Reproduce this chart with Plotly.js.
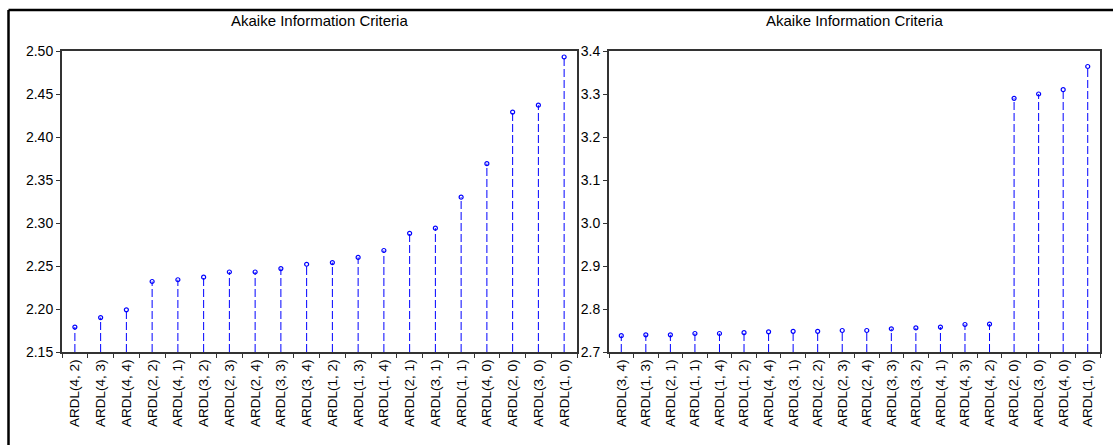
<!DOCTYPE html>
<html>
<head>
<meta charset="utf-8">
<script src="https://cdn.plot.ly/plotly-3.0.1.min.js"></script>
<style>html,body{margin:0;padding:0;background:#fff;}#chart{width:1113px;height:445px;}</style>
</head>
<body>
<div id="chart"></div>
<script>
// ---- data ----
const chartTitle = "Akaike Information Criteria";

const leftModels = ["ARDL(4, 2)","ARDL(4, 3)","ARDL(4, 4)","ARDL(2, 2)","ARDL(4, 1)","ARDL(3, 2)","ARDL(2, 3)","ARDL(2, 4)","ARDL(3, 3)","ARDL(3, 4)","ARDL(1, 2)","ARDL(1, 3)","ARDL(1, 4)","ARDL(2, 1)","ARDL(3, 1)","ARDL(1, 1)","ARDL(4, 0)","ARDL(2, 0)","ARDL(3, 0)","ARDL(1, 0)"];
const leftAIC = [2.179,2.190,2.199,2.232,2.234,2.237,2.243,2.243,2.247,2.252,2.254,2.260,2.268,2.288,2.294,2.330,2.369,2.429,2.437,2.493];
const leftTicks = [2.15,2.20,2.25,2.30,2.35,2.40,2.45,2.50];

const rightModels = ["ARDL(3, 4)","ARDL(1, 3)","ARDL(2, 1)","ARDL(1, 1)","ARDL(1, 4)","ARDL(1, 2)","ARDL(4, 4)","ARDL(3, 1)","ARDL(2, 2)","ARDL(2, 3)","ARDL(2, 4)","ARDL(3, 3)","ARDL(3, 2)","ARDL(4, 1)","ARDL(4, 3)","ARDL(4, 2)","ARDL(2, 0)","ARDL(3, 0)","ARDL(4, 0)","ARDL(1, 0)"];
const rightAIC = [2.738,2.740,2.740,2.743,2.743,2.745,2.747,2.748,2.748,2.750,2.750,2.754,2.756,2.758,2.764,2.765,3.290,3.300,3.310,3.364];
const rightTicks = [2.7,2.8,2.9,3.0,3.1,3.2,3.3,3.4];

// ---- build stems through the axes ----
function stems(cats, vals, base, xa, ya) {
  const xs = [], ys = [];
  cats.forEach((c, i) => { xs.push(c, c, null); ys.push(base, vals[i], null); });
  return {
    type: "scatter", mode: "lines", x: xs, y: ys, xaxis: xa, yaxis: ya,
    line: {color: "#0000ff", width: 1, dash: "8px,3px"},
    hoverinfo: "skip", showlegend: false, connectgaps: false
  };
}
function dots(cats, vals, xa, ya) {
  return {
    type: "scatter", mode: "markers", x: cats, y: vals, xaxis: xa, yaxis: ya,
    marker: {symbol: "circle-open", size: 4, color: "#0000ff", line: {width: 1.2, color: "#0000ff"}},
    showlegend: false
  };
}

const W = 1113, H = 445;
const px = v => v / W, py = v => 1 - v / H;

const font = {family: "Liberation Sans, Arial, sans-serif", color: "#000"};

const xCommon = {
  type: "category", showline: true, linecolor: "#333", linewidth: 2, mirror: true,
  ticks: "outside", ticklen: 4, tickcolor: "#333", tickson: "boundaries",
  tickangle: -90, tickfont: Object.assign({size: 13.5}, font), showgrid: false, zeroline: false, fixedrange: true
};
const yCommon = {
  showline: true, linecolor: "#333", linewidth: 2, mirror: true,
  ticks: "outside", ticklen: 4, tickcolor: "#333",
  tickfont: Object.assign({size: 14}, font), showgrid: false, zeroline: false, fixedrange: true
};

const data = [
  stems(leftModels, leftAIC, leftTicks[0], "x", "y"),
  dots(leftModels, leftAIC, "x", "y"),
  stems(rightModels, rightAIC, rightTicks[0], "x2", "y2"),
  dots(rightModels, rightAIC, "x2", "y2")
];

const layout = {
  width: W, height: H,
  margin: {l: 0, r: 0, t: 0, b: 0},
  paper_bgcolor: "#fff", plot_bgcolor: "#fff",
  showlegend: false,
  xaxis: Object.assign({}, xCommon, {domain: [px(62), px(577)], anchor: "y", range: [-0.5, leftModels.length - 0.5]}),
  yaxis: Object.assign({}, yCommon, {domain: [py(352), py(51)], anchor: "x", range: [leftTicks[0], leftTicks[leftTicks.length-1]], tickvals: leftTicks, ticktext: leftTicks.map(v => v.toFixed(2))}),
  xaxis2: Object.assign({}, xCommon, {domain: [px(609), px(1100)], anchor: "y2", range: [-0.5, rightModels.length - 0.5]}),
  yaxis2: Object.assign({}, yCommon, {domain: [py(352), py(51)], anchor: "x2", range: [rightTicks[0], rightTicks[rightTicks.length-1]], tickvals: rightTicks, ticktext: rightTicks.map(v => v.toFixed(1))}),
  annotations: [
    {text: chartTitle, xref: "paper", yref: "paper", x: (px(62)+px(577))/2, y: py(21), xanchor: "center", yanchor: "middle", showarrow: false, font: Object.assign({size: 15}, font)},
    {text: chartTitle, xref: "paper", yref: "paper", x: (px(609)+px(1100))/2, y: py(21), xanchor: "center", yanchor: "middle", showarrow: false, font: Object.assign({size: 15}, font)}
  ],
  shapes: [
    {type: "line", xref: "paper", yref: "paper", x0: px(8.5), x1: 1.05, y0: py(10), y1: py(10), line: {color: "#000", width: 2.5}},
    {type: "line", xref: "paper", yref: "paper", x0: px(8.5), x1: px(8.5), y0: py(10), y1: -0.05, line: {color: "#000", width: 2.5}}
  ]
};

Plotly.newPlot("chart", data, layout, {displayModeBar: false, staticPlot: true});
</script>
</body>
</html>
